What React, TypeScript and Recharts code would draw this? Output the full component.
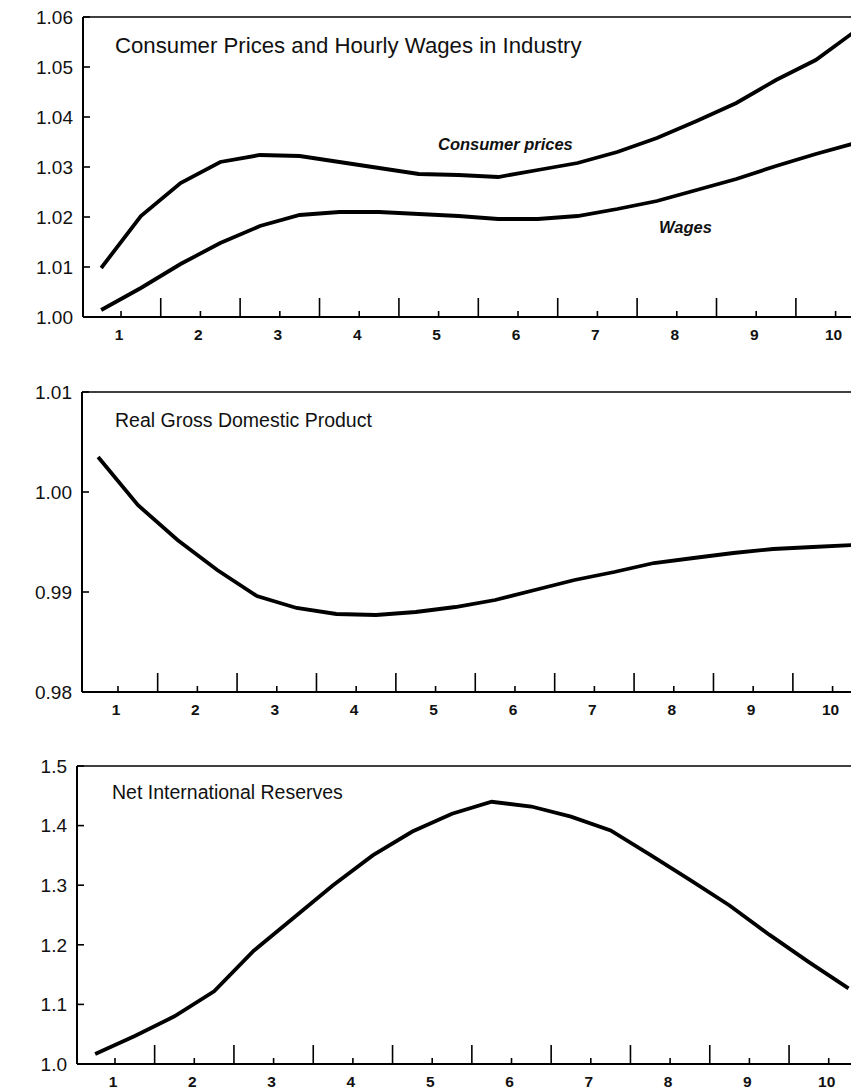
import { LineChart, Line, XAxis, YAxis, ReferenceLine } from "recharts";

// half-year observation points (year 1 = first year of simulation)
const periods = [0.75, 1.25, 1.75, 2.25, 2.75, 3.25, 3.75, 4.25, 4.75, 5.25, 5.75, 6.25, 6.75, 7.25, 7.75, 8.25, 8.75, 9.25, 9.75, 10.25];
const years = [1, 2, 3, 4, 5, 6, 7, 8, 9, 10];
const yearBounds = [1.5, 2.5, 3.5, 4.5, 5.5, 6.5, 7.5, 8.5, 9.5];

const consumerPrices = [1.0098, 1.0202, 1.0268, 1.031, 1.0324, 1.0322, 1.031, 1.0298, 1.0286, 1.0284, 1.028, 1.0294, 1.0308, 1.033, 1.0358, 1.0392, 1.0428, 1.0474, 1.0514, 1.0572];
const wages = [1.0014, 1.0058, 1.0106, 1.0148, 1.0182, 1.0204, 1.021, 1.021, 1.0206, 1.0202, 1.0196, 1.0196, 1.0202, 1.0216, 1.0232, 1.0254, 1.0276, 1.0302, 1.0326, 1.0348];
const realGdp = [1.0035, 0.9987, 0.9952, 0.9922, 0.9896, 0.9884, 0.9878, 0.9877, 0.988, 0.9885, 0.9892, 0.9902, 0.9912, 0.992, 0.9929, 0.9934, 0.9939, 0.9943, 0.9945, 0.9947];
const reserves = [1.0168, 1.047, 1.08, 1.122, 1.19, 1.245, 1.3, 1.35, 1.39, 1.42, 1.44, 1.432, 1.415, 1.392, 1.351, 1.309, 1.266, 1.217, 1.171, 1.127];

const pricesTicks = [1.0, 1.01, 1.02, 1.03, 1.04, 1.05, 1.06];
const gdpTicks = [0.98, 0.99, 1.0, 1.01];
const reservesTicks = [1.0, 1.1, 1.2, 1.3, 1.4, 1.5];

const xTicks = [...years, ...yearBounds].sort((a, b) => a - b);

const FONT = "'Liberation Sans', Arial, Helvetica, sans-serif";

const pricesData = periods.map((t, i) => ({ t, cp: consumerPrices[i], w: wages[i] }));
const gdpData = periods.map((t, i) => ({ t, gdp: realGdp[i] }));
const reservesData = periods.map((t, i) => ({ t, res: reserves[i] }));

function XTick(props: any) {
  const { x, y, payload } = props;
  const v = payload.value;
  const isYear = Number.isInteger(v);
  return (
    <g>
      <line x1={x} x2={x} y1={y} y2={y - (isYear ? 6 : 19)} stroke="#000" strokeWidth={1.6} />
      {isYear && (
        <text x={x - 2} y={y + 23} textAnchor="middle" fontSize={15.5} fontWeight="bold" fontFamily={FONT} fill="#111">
          {v}
        </text>
      )}
    </g>
  );
}

const yTick = (digits: number) => (props: any) => {
  const { x, y, payload } = props;
  return (
    <g>
      <line x1={x} x2={x + 7} y1={y} y2={y} stroke="#000" strokeWidth={1.6} />
      <text x={x - 10} y={y} dy="0.36em" textAnchor="end" fontSize={19} fontFamily={FONT} fill="#111">
        {Number(payload.value).toFixed(digits)}
      </text>
    </g>
  );
};

interface PanelProps {
  top: number;
  height: number;
  marginTop: number;
  marginBottom: number;
  axisWidth: number;
  xDomain: [number, number];
  yDomain: [number, number];
  yTicks: number[];
  digits: number;
  data: any[];
  keys: string[];
  title: string;
  titleX: number;
  titleY: number;
  titleSize: number;
}

function Panel(p: PanelProps) {
  return (
    <div style={{ position: "absolute", left: 0, top: p.top }}>
      <LineChart
        width={851}
        height={p.height}
        data={p.data}
        margin={{ top: p.marginTop, right: 0, left: 0, bottom: p.marginBottom }}
      >
        <XAxis
          dataKey="t"
          type="number"
          domain={p.xDomain}
          allowDataOverflow
          ticks={xTicks}
          interval={0}
          tickSize={0}
          tickMargin={0}
          height={30}
          axisLine={{ stroke: "#000", strokeWidth: 2 }}
          tick={XTick}
        />
        <YAxis
          type="number"
          domain={p.yDomain}
          allowDataOverflow
          ticks={p.yTicks}
          interval={0}
          tickSize={0}
          tickMargin={0}
          width={p.axisWidth}
          axisLine={{ stroke: "#000", strokeWidth: 2 }}
          tick={yTick(p.digits)}
        />
        <ReferenceLine y={p.yDomain[1]} stroke="#000" strokeWidth={1.6} />
        {p.keys.map((k) => (
          <Line
            key={k}
            dataKey={k}
            type="linear"
            stroke="#000"
            strokeWidth={3.8}
            dot={false}
            isAnimationActive={false}
          />
        ))}
      </LineChart>
      <div
        style={{
          position: "absolute",
          left: p.titleX,
          top: p.titleY,
          fontFamily: FONT,
          fontSize: p.titleSize,
          lineHeight: "24px",
          color: "#111",
          whiteSpace: "nowrap",
        }}
      >
        {p.title}
      </div>
    </div>
  );
}

const seriesLabel: React.CSSProperties = {
  position: "absolute",
  fontFamily: FONT,
  fontSize: 16.5,
  fontStyle: "italic",
  fontWeight: "bold",
  lineHeight: "20px",
  color: "#111",
  whiteSpace: "nowrap",
};

export default function App() {
  return (
    <div style={{ position: "absolute", left: 0, top: 0, width: 851, height: 1092, background: "#fff", overflow: "hidden" }}>
      <Panel
        top={0}
        height={360}
        marginTop={17}
        marginBottom={13}
        axisWidth={83}
        xDomain={[0.521, 10.194]}
        yDomain={[1.0, 1.06]}
        yTicks={pricesTicks}
        digits={2}
        data={pricesData}
        keys={["cp", "w"]}
        title="Consumer Prices and Hourly Wages in Industry"
        titleX={115}
        titleY={34}
        titleSize={22.2}
      />
      <div style={{ ...seriesLabel, left: 438, top: 134 }}>Consumer prices</div>
      <div style={{ ...seriesLabel, left: 659, top: 217 }}>Wages</div>
      <Panel
        top={370}
        height={360}
        marginTop={22}
        marginBottom={8}
        axisWidth={82}
        xDomain={[0.547, 10.232]}
        yDomain={[0.98, 1.01]}
        yTicks={gdpTicks}
        digits={2}
        data={gdpData}
        keys={["gdp"]}
        title="Real Gross Domestic Product"
        titleX={115}
        titleY={38}
        titleSize={19.5}
      />
      <Panel
        top={740}
        height={352}
        marginTop={26}
        marginBottom={-2}
        axisWidth={77}
        xDomain={[0.521, 10.281]}
        yDomain={[1.0, 1.5]}
        yTicks={reservesTicks}
        digits={1}
        data={reservesData}
        keys={["res"]}
        title="Net International Reserves"
        titleX={112}
        titleY={40}
        titleSize={19.5}
      />
    </div>
  );
}
